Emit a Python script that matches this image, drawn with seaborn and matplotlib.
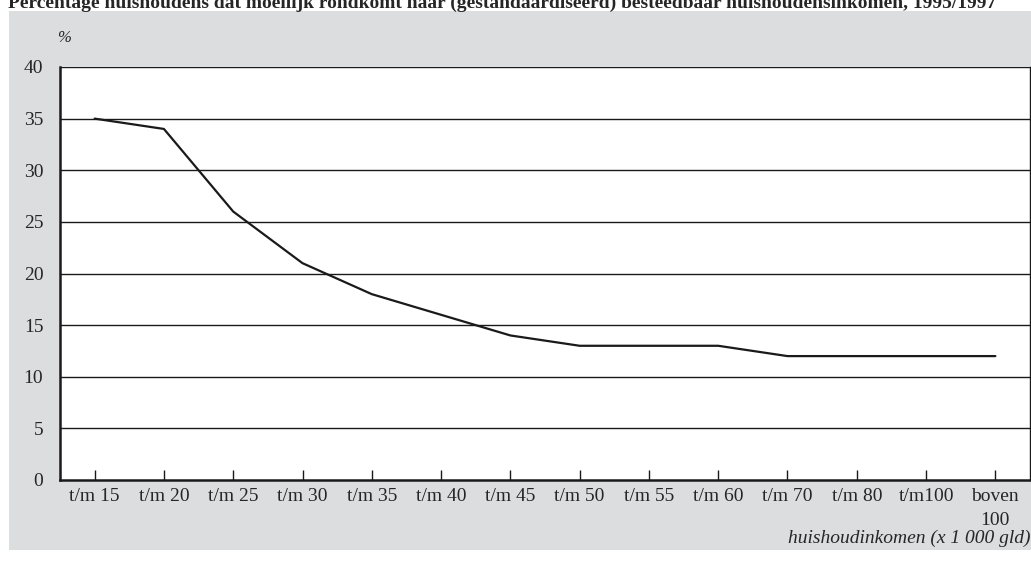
import pandas as pd
import matplotlib.pyplot as plt
import seaborn as sns
from matplotlib.patches import Rectangle

# data
income_classes = ['t/m 15', 't/m 20', 't/m 25', 't/m 30', 't/m 35', 't/m 40', 't/m 45',
                  't/m 50', 't/m 55', 't/m 60', 't/m 70', 't/m 80', 't/m100', 'boven\n100']
pct_difficult = [35, 34, 26, 21, 18, 16, 14, 13, 13, 13, 12, 12, 12, 12]
y_ticks = [0, 5, 10, 15, 20, 25, 30, 35, 40]

sns.set_theme(style='white')
plt.rcParams['font.family'] = ['Liberation Serif', 'DejaVu Serif']

df = pd.DataFrame({'klasse': income_classes, 'pct': pct_difficult})

fig = plt.figure(figsize=(10.31, 5.62), dpi=100)
fig.patch.set_facecolor('white')

# grey panel behind the plot
fig.add_artist(Rectangle((9 / 1031, 1 - 550 / 562), 1 - 9 / 1031, (550 - 11) / 562,
                         transform=fig.transFigure, facecolor='#dcdddf',
                         edgecolor='none', zorder=0))

ax = fig.add_axes([60 / 1031, 1 - 480 / 562, 970 / 1031, 413 / 562])
ax.set_facecolor('white')

sns.lineplot(data=df, x='klasse', y='pct', sort=False, color='#1a1a1a',
             linewidth=1.6, ax=ax)

ax.set_xlim(-0.5, 13.5)
ax.set_ylim(0, 40)
ax.set_yticks(y_ticks)
ax.set_yticklabels([str(v) for v in y_ticks], fontsize=14)
for v in y_ticks[1:]:
    ax.axhline(v, color='#1a1a1a', linewidth=1.0, zorder=1)

ax.set_xticks(range(len(income_classes)))
ax.set_xticklabels(income_classes, fontsize=14, linespacing=1.5)
ax.tick_params(axis='x', direction='in', length=7, width=1, color='#1a1a1a',
               bottom=True, pad=6)
ax.tick_params(axis='y', length=0, pad=12)

for side in ['left', 'bottom']:
    ax.spines[side].set_color('#1a1a1a')
    ax.spines[side].set_linewidth(1.8)
ax.spines['top'].set_visible(False)
ax.spines['right'].set_color('#1a1a1a')
ax.spines['right'].set_linewidth(1.0)

ax.set_xlabel('')
ax.set_ylabel('')

fig.text(64 / 1031, 1 - 38 / 562, '%', fontsize=12, style='italic',
         ha='center', va='center')
fig.text(1030 / 1031, 1 - 538 / 562, 'huishoudinkomen (x 1 000 gld)', fontsize=14,
         style='italic', ha='right', va='center')
fig.text(8 / 1031, 1 - 8 / 562,
         'Percentage huishoudens dat moeilijk rondkomt naar (gestandaardiseerd) '
         'besteedbaar huishoudensinkomen, 1995/1997',
         fontsize=14, fontweight='bold', ha='left', va='baseline')

fig.savefig('out.png', dpi=100)
